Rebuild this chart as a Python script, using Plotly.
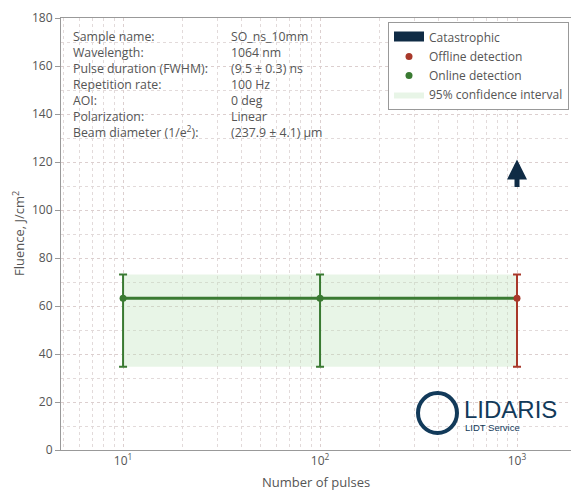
import numpy as np
import plotly.graph_objects as go

# ---- data ----
online_pulses = [10, 100]
online_fluence = [63.2, 63.2]
online_low = [34.7, 34.7]
online_high = [73.1, 73.1]

offline_pulses = [1000]
offline_fluence = [63.2]
offline_low = [34.7]
offline_high = [73.1]

line_pulses = [10, 100, 1000]
line_fluence = [63.2, 63.2, 63.2]

ci_pulses = [10, 1000]
ci_low = 34.7
ci_high = 73.1

cat_pulses = [1000]
cat_fluence = [121]
cat_tail = [109]

info_labels = ["Sample name:", "Wavelength:", "Pulse duration (FWHM):", "Repetition rate:",
               "AOI:", "Polarization:", "Beam diameter (1/e<sup>2</sup>):"]
info_values = ["SO_ns_10mm", "1064 nm", "(9.5 ± 0.3) ns", "100 Hz", "0 deg", "Linear",
               "(237.9 ± 4.1) µm"]

x_tickvals = [10, 100, 1000]
x_ticktext = ["10<sup>1</sup>", "10<sup>2</sup>", "10<sup>3</sup>"]

GREEN = "#3a7a32"
RED = "#a8382a"
NAVY = "#0f2b45"
LOGO = "#123a5a"
FONT = "Open Sans"
GREY = "#555555"

L, R, T, B = 61, 1, 18, 40
PW = 572 - L - R
PH = 490 - T - B

def px(xp):
    return (xp - L) / PW

def py(yp):
    return (490 - B - yp) / PH

fig = go.Figure()

# confidence band
fig.add_trace(go.Scatter(
    x=[ci_pulses[0], ci_pulses[1], ci_pulses[1], ci_pulses[0], ci_pulses[0]],
    y=[ci_low, ci_low, ci_high, ci_high, ci_low],
    fill="toself", fillcolor="rgba(190,225,185,0.35)", mode="lines",
    line=dict(width=0, color="rgba(190,225,185,0.35)"),
    name="95% confidence interval", legendrank=4, hoverinfo="skip"))

# catastrophic legend entry
fig.add_trace(go.Scatter(x=[None], y=[None], mode="lines", fill="toself",
                         fillcolor=NAVY, line=dict(color=NAVY, width=8),
                         name="Catastrophic", legendrank=1))

# threshold line
fig.add_trace(go.Scatter(x=line_pulses, y=line_fluence, mode="lines",
                         line=dict(color=GREEN, width=3), showlegend=False))

# offline
fig.add_trace(go.Scatter(
    x=offline_pulses, y=offline_fluence, mode="markers",
    marker=dict(color=RED, size=7),
    error_y=dict(type="data", symmetric=False,
                 array=[h - v for h, v in zip(offline_high, offline_fluence)],
                 arrayminus=[v - l for l, v in zip(offline_low, offline_fluence)],
                 color=RED, thickness=2, width=4),
    name="Offline detection", legendrank=2))

# online
fig.add_trace(go.Scatter(
    x=online_pulses, y=online_fluence, mode="markers",
    marker=dict(color=GREEN, size=7),
    error_y=dict(type="data", symmetric=False,
                 array=[h - v for h, v in zip(online_high, online_fluence)],
                 arrayminus=[v - l for l, v in zip(online_low, online_fluence)],
                 color=GREEN, thickness=2, width=4),
    name="Online detection", legendrank=3))

annotations = []
# catastrophic arrows
for p, f, t in zip(cat_pulses, cat_fluence, cat_tail):
    annotations.append(dict(x=np.log10(p), y=f, ax=np.log10(p), ay=t,
                            xref="x", yref="y", axref="x", ayref="y",
                            text="", showarrow=True, arrowhead=2, arrowsize=0.8,
                            arrowwidth=5, arrowcolor=NAVY))

# info block (two multi-line columns)
top_center = 34.5
annotations.append(dict(x=px(71), y=py(top_center - 9), xref="paper", yref="paper",
                        text="<br>".join(info_labels), showarrow=False, align="left",
                        xanchor="left", yanchor="top",
                        font=dict(family=FONT, size=12.3, color=GREY)))
annotations.append(dict(x=px(229), y=py(top_center - 9), xref="paper", yref="paper",
                        text="<br>".join(info_values), showarrow=False, align="left",
                        xanchor="left", yanchor="top",
                        font=dict(family=FONT, size=12.3, color=GREY)))

# axis titles
annotations.append(dict(x=px(316), y=py(482), xref="paper", yref="paper",
                        text="Number of pulses", showarrow=False,
                        xanchor="center", yanchor="middle",
                        font=dict(family=FONT, size=13, color=GREY)))
annotations.append(dict(x=px(18), y=py(234), xref="paper", yref="paper",
                        text="Fluence, J/cm<sup>2</sup>", showarrow=False, textangle=-90,
                        xanchor="center", yanchor="middle",
                        font=dict(family=FONT, size=13, color=GREY)))

# logo
annotations.append(dict(x=px(462), y=py(409), xref="paper", yref="paper",
                        text="LIDARIS", showarrow=False, xanchor="left", yanchor="middle",
                        font=dict(family="Liberation Sans", size=24, color=LOGO)))
annotations.append(dict(x=px(463), y=py(427), xref="paper", yref="paper",
                        text="LIDT Service", showarrow=False, xanchor="left", yanchor="middle",
                        font=dict(family="Liberation Sans", size=9.5, color=LOGO)))

shapes = [dict(type="circle", xref="paper", yref="paper",
               x0=px(418), x1=px(457), y0=py(433), y1=py(393),
               line=dict(color=LOGO, width=4))]

fig.update_layout(
    width=572, height=490,
    margin=dict(l=L, r=R, t=T, b=B, autoexpand=False),
    paper_bgcolor="white", plot_bgcolor="white",
    font=dict(family=FONT, size=12, color=GREY),
    showlegend=True,
    legend=dict(x=px(388), y=py(22), xanchor="left", yanchor="top",
                bordercolor="#999999", borderwidth=1, bgcolor="white",
                font=dict(family=FONT, size=12, color=GREY),
                tracegroupgap=0, itemwidth=30),
    annotations=annotations,
    shapes=shapes,
    xaxis=dict(type="log", range=[np.log10(4.84), np.log10(1880)],
               tickvals=x_tickvals, ticktext=x_ticktext,
               tickfont=dict(size=12, color=GREY),
               showline=True, linecolor="#999999", linewidth=1, mirror=True,
               showgrid=True, gridcolor="#dccfcf", griddash="dot", gridwidth=1,
               minor=dict(showgrid=True, gridcolor="#e2dada", griddash="dot",
                          tickvals=[k * 10 ** e for e in range(0, 4) for k in range(2, 10)]),
               ticks="", zeroline=False, automargin=False),
    yaxis=dict(range=[0, 180], dtick=20,
               tickfont=dict(size=12, color=GREY),
               showline=True, linecolor="#999999", linewidth=1,
               ticks="outside", ticklen=5, tickcolor="#999999",
               showgrid=True, gridcolor="#dccfcf", griddash="dot", gridwidth=1,
               minor=dict(showgrid=True, dtick=10, gridcolor="#e2dada", griddash="dot"),
               zeroline=False, automargin=False),
)

fig.write_html("out.html", config={"displayModeBar": False},
               post_script="document.body.style.margin='0';document.body.style.overflow='hidden';")
